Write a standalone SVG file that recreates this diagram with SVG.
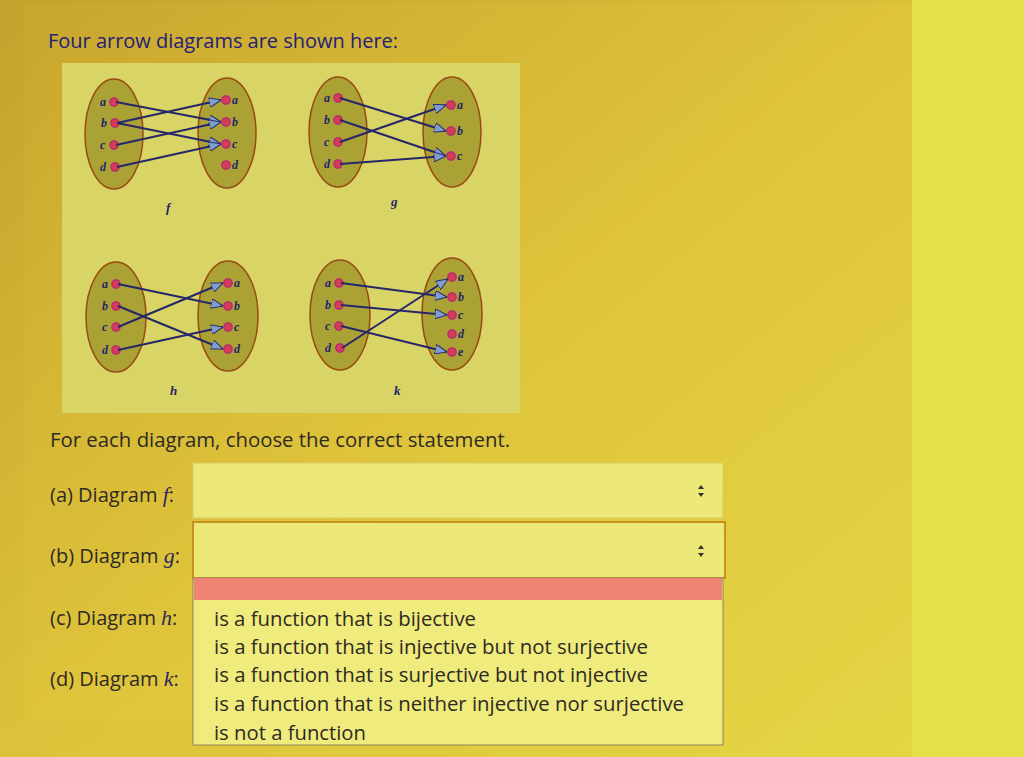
<svg xmlns="http://www.w3.org/2000/svg" width="1024" height="757" viewBox="0 0 1024 757">
<defs>
<linearGradient id="bg" x1="0" y1="0" x2="1" y2="1">
<stop offset="0" stop-color="#c4a22c"/>
<stop offset="0.5" stop-color="#dcc23a"/>
<stop offset="1" stop-color="#e6d846"/>
</linearGradient>
<linearGradient id="panel" x1="0" y1="0" x2="1" y2="1">
<stop offset="0" stop-color="#c9a62e"/>
<stop offset="0.55" stop-color="#e0c63c"/>
<stop offset="1" stop-color="#e4d444"/>
</linearGradient>
<marker id="ah" viewBox="0 0 12 10" refX="12" refY="5" markerWidth="12" markerHeight="10" markerUnits="userSpaceOnUse" orient="auto">
<path d="M0,0 L12,5 L0,10 z" fill="#7f9ed0" stroke="#2c2c6c" stroke-width="1"/>
</marker>
<style>
.ell{fill:#aaa234;stroke:#9a4a14;stroke-width:1.5}
.pt{fill:#d83a5a;stroke:#b02a70;stroke-width:1.2}
.lb{font-family:"Liberation Serif",serif;font-style:italic;font-weight:bold;font-size:12px;fill:#24246a}
.fn{font-family:"Liberation Serif",serif;font-style:italic;font-weight:bold;font-size:13px;fill:#24246a}
.con{stroke:#26266a;stroke-width:2;fill:none;marker-end:url(#ah)}
.t{font-family:"Open Sans","Noto Sans",sans-serif;font-size:20px;fill:#2e2a24}
.m{font-family:"Liberation Serif",serif;font-style:italic;font-size:22px;fill:#2e2a5c}
.sel{fill:#ece978;stroke:#d8cc60;stroke-width:1}
</style>
</defs>
<rect width="1024" height="757" fill="url(#bg)"/>
<rect x="912" y="0" width="112" height="757" fill="#e6df4c"/>
<rect x="25" y="3" width="887" height="718" fill="url(#panel)"/>
<text x="48" y="48" font-family="Open Sans, Noto Sans, sans-serif" font-size="20" fill="#22207a" textLength="350" lengthAdjust="spacingAndGlyphs">Four arrow diagrams are shown here:</text>
<rect x="62" y="63" width="458" height="350" fill="#d8d466"/>

<g id="diagram-f">
<ellipse class="ell" cx="114" cy="134" rx="29" ry="55"/>
<ellipse class="ell" cx="227" cy="133" rx="29" ry="55"/>
<circle class="pt" cx="114" cy="102" r="4.2"/><circle class="pt" cx="115" cy="123" r="4.2"/><circle class="pt" cx="114" cy="145" r="4.2"/><circle class="pt" cx="115" cy="167" r="4.2"/>
<circle class="pt" cx="226" cy="100" r="4.2"/><circle class="pt" cx="226" cy="122" r="4.2"/><circle class="pt" cx="226" cy="144" r="4.2"/><circle class="pt" cx="226" cy="165" r="4.2"/>
<text class="lb" x="100" y="106">a</text><text class="lb" x="101" y="127">b</text><text class="lb" x="100" y="149">c</text><text class="lb" x="100" y="171">d</text>
<text class="lb" x="232" y="104">a</text><text class="lb" x="232" y="126">b</text><text class="lb" x="232" y="148">c</text><text class="lb" x="232" y="169">d</text>
<text class="fn" x="166" y="212">f</text>
</g>
<g id="diagram-g">
<ellipse class="ell" cx="338" cy="132" rx="29" ry="55"/>
<ellipse class="ell" cx="452" cy="132" rx="29" ry="55"/>
<circle class="pt" cx="338" cy="98" r="4.2"/><circle class="pt" cx="338" cy="120" r="4.2"/><circle class="pt" cx="338" cy="142" r="4.2"/><circle class="pt" cx="338" cy="164" r="4.2"/>
<circle class="pt" cx="451" cy="105" r="4.2"/><circle class="pt" cx="451" cy="131" r="4.2"/><circle class="pt" cx="451" cy="156" r="4.2"/>
<text class="lb" x="324" y="102">a</text><text class="lb" x="324" y="124">b</text><text class="lb" x="324" y="146">c</text><text class="lb" x="324" y="168">d</text>
<text class="lb" x="457" y="109">a</text><text class="lb" x="457" y="135">b</text><text class="lb" x="457" y="160">c</text>
<text class="fn" x="391" y="206">g</text>
</g>
<g id="diagram-h">
<ellipse class="ell" cx="116" cy="317" rx="30" ry="55"/>
<ellipse class="ell" cx="228" cy="316" rx="30" ry="55"/>
<circle class="pt" cx="116" cy="284" r="4.2"/><circle class="pt" cx="116" cy="306" r="4.2"/><circle class="pt" cx="116" cy="327" r="4.2"/><circle class="pt" cx="116" cy="350" r="4.2"/>
<circle class="pt" cx="228" cy="283" r="4.2"/><circle class="pt" cx="228" cy="306" r="4.2"/><circle class="pt" cx="228" cy="327" r="4.2"/><circle class="pt" cx="228" cy="349" r="4.2"/>
<text class="lb" x="102" y="288">a</text><text class="lb" x="102" y="310">b</text><text class="lb" x="102" y="331">c</text><text class="lb" x="102" y="354">d</text>
<text class="lb" x="234" y="287">a</text><text class="lb" x="234" y="310">b</text><text class="lb" x="234" y="331">c</text><text class="lb" x="234" y="353">d</text>
<text class="fn" x="170" y="395">h</text>
</g>
<g id="diagram-k">
<ellipse class="ell" cx="340" cy="315" rx="30" ry="55"/>
<ellipse class="ell" cx="452" cy="314" rx="30" ry="56"/>
<circle class="pt" cx="339" cy="283" r="4.2"/><circle class="pt" cx="339" cy="305" r="4.2"/><circle class="pt" cx="339" cy="326" r="4.2"/><circle class="pt" cx="340" cy="348" r="4.2"/>
<circle class="pt" cx="452" cy="277" r="4.2"/><circle class="pt" cx="452" cy="297" r="4.2"/><circle class="pt" cx="452" cy="315" r="4.2"/><circle class="pt" cx="452" cy="334" r="4.2"/><circle class="pt" cx="452" cy="352" r="4.2"/>
<text class="lb" x="325" y="287">a</text><text class="lb" x="325" y="309">b</text><text class="lb" x="325" y="330">c</text><text class="lb" x="325" y="352">d</text>
<text class="lb" x="458" y="281">a</text><text class="lb" x="458" y="301">b</text><text class="lb" x="458" y="319">c</text><text class="lb" x="458" y="338">d</text><text class="lb" x="458" y="356">e</text>
<text class="fn" x="394" y="395">k</text>
</g>

<g id="connectors">
<line class="con" x1="116" y1="102" x2="221" y2="122"/>
<line class="con" x1="117" y1="123" x2="221" y2="100"/>
<line class="con" x1="117" y1="123" x2="221" y2="144"/>
<line class="con" x1="116" y1="145" x2="221" y2="122"/>
<line class="con" x1="117" y1="167" x2="221" y2="144"/>

<line class="con" x1="340" y1="98" x2="446" y2="131"/>
<line class="con" x1="340" y1="120" x2="446" y2="156"/>
<line class="con" x1="340" y1="142" x2="446" y2="105"/>
<line class="con" x1="340" y1="164" x2="446" y2="156"/>

<line class="con" x1="118" y1="284" x2="223" y2="306"/>
<line class="con" x1="118" y1="306" x2="223" y2="349"/>
<line class="con" x1="118" y1="327" x2="223" y2="283"/>
<line class="con" x1="118" y1="350" x2="223" y2="327"/>

<line class="con" x1="341" y1="283" x2="447" y2="297"/>
<line class="con" x1="341" y1="305" x2="447" y2="315"/>
<line class="con" x1="341" y1="326" x2="447" y2="352"/>
<line class="con" x1="342" y1="348" x2="448" y2="279"/>
</g>

<text class="t" x="50" y="447" textLength="460" lengthAdjust="spacingAndGlyphs">For each diagram, choose the correct statement.</text>
<text class="t" x="50" y="502">(a) Diagram <tspan class="m">f</tspan>:</text>
<text class="t" x="50" y="563">(b) Diagram <tspan class="m">g</tspan>:</text>
<text class="t" x="50" y="625">(c) Diagram <tspan class="m">h</tspan>:</text>
<text class="t" x="50" y="686">(d) Diagram <tspan class="m">k</tspan>:</text>

<g id="select-a">
<rect class="sel" x="193" y="463" width="530" height="55"/>
<path d="M698,489 L701,485 L704,489 z M698,493 L701,497 L704,493 z" fill="#333"/>
</g>
<g id="select-b">
<rect x="193" y="522" width="532" height="56" fill="#ece978" stroke="#c8921e" stroke-width="2"/>
<path d="M698,549 L701,545 L704,549 z M698,553 L701,557 L704,553 z" fill="#333"/>
</g>
<g id="dropdown">
<rect x="193" y="578" width="530" height="167" fill="#efeb7c" stroke="#8a8458" stroke-width="1"/>
<rect x="194" y="578" width="528" height="22" fill="#ef8474"/>
<text class="t" x="214" y="626" textLength="262" lengthAdjust="spacingAndGlyphs">is a function that is bijective</text>
<text class="t" x="214" y="654" textLength="434" lengthAdjust="spacingAndGlyphs">is a function that is injective but not surjective</text>
<text class="t" x="214" y="682" textLength="434" lengthAdjust="spacingAndGlyphs">is a function that is surjective but not injective</text>
<text class="t" x="214" y="711" textLength="470" lengthAdjust="spacingAndGlyphs">is a function that is neither injective nor surjective</text>
<text class="t" x="214" y="740" textLength="152" lengthAdjust="spacingAndGlyphs">is not a function</text>
</g>
</svg>
